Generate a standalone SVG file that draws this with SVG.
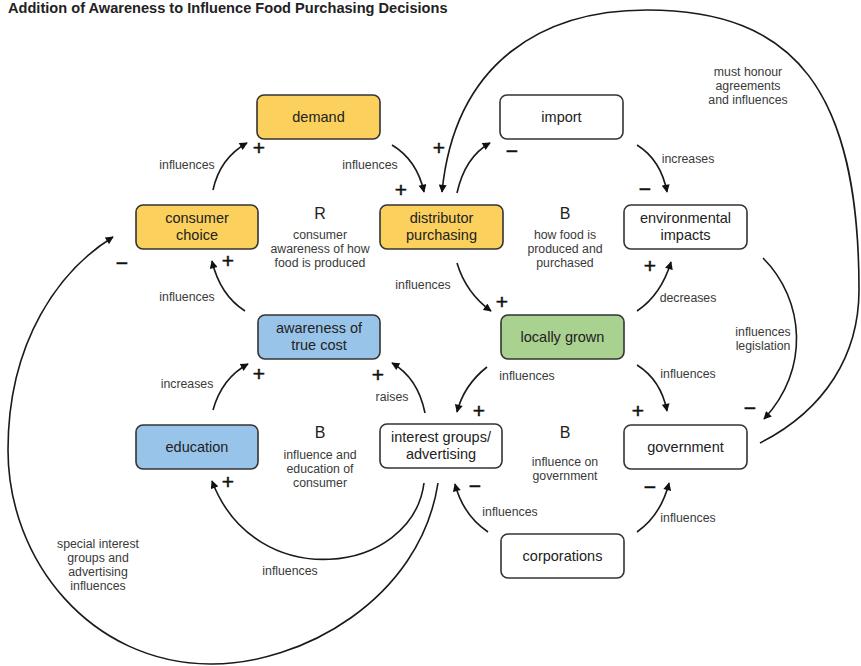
<svg xmlns="http://www.w3.org/2000/svg" width="861" height="666" viewBox="0 0 861 666">
  <style>
    .box { stroke: #333; stroke-width: 1.6; rx: 7; ry: 7; }
    .yellow { fill: #fbd05c; }
    .blue { fill: #99c4e9; }
    .green { fill: #a9d18f; }
    .plain { fill: #ffffff; }
    .node { font-family: "Liberation Sans", Arial, sans-serif; font-size: 14.5px; fill: #222; text-anchor: middle; }
    .lbl { font-family: "Liberation Sans", Arial, sans-serif; font-size: 12.3px; fill: #3a3a3a; text-anchor: middle; }
    .loop { font-family: "Liberation Sans", Arial, sans-serif; font-size: 16px; fill: #222; text-anchor: middle; }
    .sign { font-family: "Liberation Sans", Arial, sans-serif; font-size: 21px; fill: #111; text-anchor: middle; stroke: #111; stroke-width: 0.5; }
    .title { font-family: "Liberation Sans", Arial, sans-serif; font-size: 14.6px; font-weight: bold; fill: #222; }
    .link { fill: none; stroke: #1a1a1a; stroke-width: 1.6; }
    .arr { marker-end: url(#head); }
  </style>
  <defs>
    <marker id="head" viewBox="0 0 10 10" refX="9" refY="5" markerWidth="9" markerHeight="8" markerUnits="userSpaceOnUse" orient="auto">
      <path d="M0,0 L10,5 L0,10 z" fill="#111"/>
    </marker>
  </defs>

  <text class="title" x="8" y="13">Addition of Awareness to Influence Food Purchasing Decisions</text>

  <!-- causal links -->
  <g id="connectors">
    <path class="link arr" d="M213,190 Q220,158 247,143"/>
    <path class="link arr" d="M392,145 Q417,160 424,192"/>
    <path class="link arr" d="M457,193 Q465,157 490,143"/>
    <path class="link arr" d="M637,145 Q661,160 667,192"/>
    <path class="link arr" d="M637,311 Q661,295 671,262"/>
    <path class="link arr" d="M457,263 Q466,293 491,311"/>
    <path class="link arr" d="M487,367 Q464,385 457,412"/>
    <path class="link arr" d="M637,365 Q661,380 667,411"/>
    <path class="link arr" d="M425,413 Q418,378 392,363"/>
    <path class="link arr" d="M213,410 Q222,378 248,364"/>
    <path class="link arr" d="M245,311 Q220,295 212,261"/>
    <path class="link arr" d="M488,532 Q463,515 455,484"/>
    <path class="link arr" d="M637,532 Q661,515 669,483"/>
    <!-- environmental impacts to government -->
    <path class="link arr" d="M763,258 C805,300 810,370 764,419"/>
    <!-- interest groups to education -->
    <path class="link arr" d="M424,483 C412,575 255,595 212,481"/>
    <!-- interest groups around to consumer choice -->
    <path class="link arr" d="M438,483 C420,600 300,665 210,664 C90,663 8,560 8,450 C8,340 60,270 113,237"/>
    <!-- government over the top to distributor purchasing -->
    <path class="link arr" d="M760,443 C825,410 859,355 859,290 C859,91 795,10 647,10 C545,10 455,60 442,192"/>
  </g>

  <!-- link polarities -->
  <g id="signs">
    <text class="sign" x="259" y="155">+</text>
    <text class="sign" x="401" y="197">+</text>
    <text class="sign" x="439" y="155">+</text>
    <text class="sign" x="512" y="158">−</text>
    <text class="sign" x="645" y="196">−</text>
    <text class="sign" x="122" y="270">−</text>
    <text class="sign" x="228" y="268">+</text>
    <text class="sign" x="650" y="273">+</text>
    <text class="sign" x="502" y="309">+</text>
    <text class="sign" x="259" y="381">+</text>
    <text class="sign" x="378" y="382">+</text>
    <text class="sign" x="479" y="418">+</text>
    <text class="sign" x="638" y="418">+</text>
    <text class="sign" x="750" y="415">−</text>
    <text class="sign" x="228" y="489">+</text>
    <text class="sign" x="475" y="493">−</text>
    <text class="sign" x="650" y="494">−</text>
  </g>

  <!-- link and loop labels -->
  <g id="labels">
    <text class="lbl" x="187" y="169">influences</text>
    <text class="lbl" x="370" y="169">influences</text>
    <text class="lbl" x="688" y="163">increases</text>
    <text class="lbl" x="688" y="302">decreases</text>
    <text class="lbl" x="763" y="336">influences</text>
    <text class="lbl" x="763" y="350">legislation</text>
    <text class="lbl" x="688" y="378">influences</text>
    <text class="lbl" x="748" y="76">must honour</text>
    <text class="lbl" x="748" y="90">agreements</text>
    <text class="lbl" x="748" y="104">and influences</text>
    <text class="lbl" x="187" y="301">influences</text>
    <text class="lbl" x="187" y="388">increases</text>
    <text class="lbl" x="392" y="401">raises</text>
    <text class="lbl" x="423" y="289">influences</text>
    <text class="lbl" x="527" y="380">influences</text>
    <text class="lbl" x="510" y="516">influences</text>
    <text class="lbl" x="688" y="522">influences</text>
    <text class="lbl" x="290" y="575">influences</text>
    <text class="lbl" x="98" y="548">special interest</text>
    <text class="lbl" x="98" y="562">groups and</text>
    <text class="lbl" x="98" y="576">advertising</text>
    <text class="lbl" x="98" y="590">influences</text>

    <text class="loop" x="320" y="219">R</text>
    <text class="lbl" x="320" y="239">consumer</text>
    <text class="lbl" x="320" y="253">awareness of how</text>
    <text class="lbl" x="320" y="267">food is produced</text>

    <text class="loop" x="565" y="219">B</text>
    <text class="lbl" x="565" y="239">how food is</text>
    <text class="lbl" x="565" y="253">produced and</text>
    <text class="lbl" x="565" y="267">purchased</text>

    <text class="loop" x="320" y="438">B</text>
    <text class="lbl" x="320" y="459">influence and</text>
    <text class="lbl" x="320" y="473">education of</text>
    <text class="lbl" x="320" y="487">consumer</text>

    <text class="loop" x="565" y="438">B</text>
    <text class="lbl" x="565" y="466">influence on</text>
    <text class="lbl" x="565" y="480">government</text>
  </g>

  <g id="demand">
    <rect class="box yellow" x="257" y="95" width="123" height="44"/>
    <text class="node" x="318.5" y="122">demand</text>
  </g>
  <g id="consumer-choice">
    <rect class="box yellow" x="136" y="205" width="122" height="44"/>
    <text class="node" x="197" y="223">consumer</text>
    <text class="node" x="197" y="240">choice</text>
  </g>
  <g id="distributor-purchasing">
    <rect class="box yellow" x="380" y="205" width="123" height="44"/>
    <text class="node" x="441.5" y="223">distributor</text>
    <text class="node" x="441.5" y="240">purchasing</text>
  </g>
  <g id="import">
    <rect class="box plain" x="500" y="95" width="123" height="44"/>
    <text class="node" x="561.5" y="122">import</text>
  </g>
  <g id="environmental-impacts">
    <rect class="box plain" x="624" y="205" width="123" height="44"/>
    <text class="node" x="685.5" y="223">environmental</text>
    <text class="node" x="685.5" y="240">impacts</text>
  </g>
  <g id="awareness-of-true-cost">
    <rect class="box blue" x="258" y="315" width="122" height="44"/>
    <text class="node" x="319" y="333">awareness of</text>
    <text class="node" x="319" y="350">true cost</text>
  </g>
  <g id="locally-grown">
    <rect class="box green" x="501" y="315" width="123" height="44"/>
    <text class="node" x="562.5" y="342">locally grown</text>
  </g>
  <g id="education">
    <rect class="box blue" x="136" y="425" width="122" height="44"/>
    <text class="node" x="197" y="452">education</text>
  </g>
  <g id="interest-groups-advertising">
    <rect class="box plain" x="380" y="424" width="122" height="44"/>
    <text class="node" x="441" y="442">interest groups/</text>
    <text class="node" x="441" y="459">advertising</text>
  </g>
  <g id="government">
    <rect class="box plain" x="624" y="425" width="123" height="44"/>
    <text class="node" x="685.5" y="452">government</text>
  </g>
  <g id="corporations">
    <rect class="box plain" x="501" y="534" width="123" height="44"/>
    <text class="node" x="562.5" y="561">corporations</text>
  </g>
</svg>
